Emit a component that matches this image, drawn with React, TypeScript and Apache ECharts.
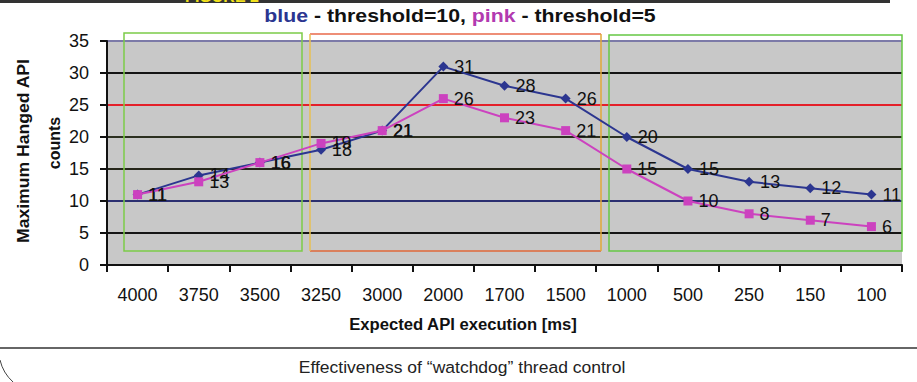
import React, { useEffect, useRef } from "react";
import * as echarts from "echarts";

// Expected API execution time buckets [ms]
const categories = ["4000", "3750", "3500", "3250", "3000", "2000", "1700", "1500", "1000", "500", "250", "150", "100"];
// Maximum hanged API counts, threshold = 10
const blueCounts = [11, 14, 16, 18, 21, 31, 28, 26, 20, 15, 13, 12, 11];
// Maximum hanged API counts, threshold = 5
const pinkCounts = [11, 13, 16, 19, 21, 26, 23, 21, 15, 10, 8, 7, 6];
// Y axis range
const yMin = 0;
const yMax = 35;
const yStep = 5;

const FONT = "'Liberation Sans', Arial, sans-serif";
const BLUE = "#2c3690";
const PINK = "#cc42bf";

export default function App() {
  const ref = useRef<HTMLDivElement>(null);

  useEffect(() => {
    if (!ref.current) return;
    const chart = echarts.init(ref.current, null, { renderer: "svg" });

    const labelStyle = {
      show: true,
      position: "right" as const,
      distance: 6,
      fontSize: 18,
      color: "#111",
      fontFamily: FONT,
    };

    chart.setOption({
      animation: false,
      backgroundColor: "#ffffff",
      grid: {
        left: 107,
        right: 15,
        top: 41,
        bottom: 117,
        show: true,
        backgroundColor: "#c8c8c8",
        borderWidth: 0,
      },
      xAxis: {
        type: "category",
        data: categories,
        boundaryGap: true,
        axisLine: { show: true, lineStyle: { color: "#111", width: 2 } },
        axisTick: { show: true, length: 7, inside: false, alignWithLabel: false, lineStyle: { color: "#111", width: 2 } },
        axisLabel: { color: "#111", fontSize: 18, fontFamily: FONT, margin: 21, interval: 0 },
        splitLine: { show: false },
      },
      yAxis: {
        type: "value",
        min: yMin,
        max: yMax,
        interval: yStep,
        axisLine: { show: true, lineStyle: { color: "#111", width: 2 } },
        axisTick: { show: true, length: 7, lineStyle: { color: "#111", width: 2 } },
        axisLabel: { color: "#111", fontSize: 18, fontFamily: FONT, margin: 18 },
        splitLine: {
          show: true,
          lineStyle: {
            width: 2,
            color: ["#111111", "#151515", "#2b2f70", "#25261a", "#2c3020", "#e4202a", "#141414", "#7c7aa8"],
          },
        },
      },
      series: [
        {
          name: "threshold=10",
          type: "line",
          data: blueCounts,
          symbol: "diamond",
          symbolSize: 10,
          lineStyle: { color: BLUE, width: 2 },
          itemStyle: { color: BLUE },
          label: labelStyle,
          z: 3,
        },
        {
          name: "threshold=5",
          type: "line",
          data: pinkCounts,
          symbol: "rect",
          symbolSize: 9,
          lineStyle: { color: PINK, width: 2 },
          itemStyle: { color: PINK },
          label: labelStyle,
          z: 4,
        },
      ],
      graphic: [
        { type: "rect", z: 1, shape: { x: 0, y: 0, width: 890, height: 3 }, style: { fill: "#333333" } },
        {
          type: "text",
          z: 2,
          x: 222,
          y: 4,
          style: { text: "FIGURE 2", fill: "#f2e21c", font: `bold 16px ${FONT}`, align: "center", verticalAlign: "bottom" },
        },
        {
          type: "text",
          z: 2,
          x: 460,
          y: 15,
          scaleX: 1.12,
          style: {
            text: "{b|blue} - threshold=10, {p|pink} - threshold=5",
            align: "center",
            verticalAlign: "middle",
            font: `bold 19px ${FONT}`,
            fill: "#111",
            rich: {
              b: { fill: "#2b3590", font: `bold 19px ${FONT}` },
              p: { fill: "#b23ab0", font: `bold 19px ${FONT}` },
            },
          },
        },
        // grouping boxes over the plot area
        { type: "rect", z: 1, shape: { x: 124, y: 33, width: 178, height: 218 }, style: { fill: "none", stroke: "#7ccb48", lineWidth: 1.5 } },
        { type: "line", z: 1, shape: { x1: 310, y1: 34, x2: 601, y2: 34 }, style: { stroke: "#e8694a", lineWidth: 1.5 } },
        { type: "line", z: 1, shape: { x1: 310, y1: 251, x2: 601, y2: 251 }, style: { stroke: "#e0683a", lineWidth: 1.5 } },
        { type: "line", z: 1, shape: { x1: 310, y1: 34, x2: 310, y2: 251 }, style: { stroke: "#e8c052", lineWidth: 1.5 } },
        { type: "line", z: 1, shape: { x1: 601, y1: 34, x2: 601, y2: 251 }, style: { stroke: "#e2a838", lineWidth: 1.5 } },
        { type: "rect", z: 1, shape: { x: 609, y: 35, width: 293, height: 216 }, style: { fill: "none", stroke: "#66c844", lineWidth: 1.5 } },
        // trims labels that run past the plot's right edge
        { type: "rect", z: 10, shape: { x: 903, y: 30, width: 14, height: 240 }, style: { fill: "#ffffff" } },
        {
          type: "text",
          z: 2,
          x: 24,
          y: 151,
          rotation: Math.PI / 2,
          scaleX: 1.1,
          style: { text: "Maximum Hanged API", font: `bold 16px ${FONT}`, fill: "#111", align: "center", verticalAlign: "middle" },
        },
        {
          type: "text",
          z: 2,
          x: 54,
          y: 143,
          rotation: Math.PI / 2,
          style: { text: "counts", font: `bold 16px ${FONT}`, fill: "#111", align: "center", verticalAlign: "middle" },
        },
        {
          type: "text",
          z: 2,
          x: 463,
          y: 324,
          scaleX: 1.04,
          style: { text: "Expected API execution [ms]", font: `bold 16px ${FONT}`, fill: "#111", align: "center", verticalAlign: "middle" },
        },
        { type: "line", z: 2, shape: { x1: 0, y1: 348, x2: 917, y2: 348 }, style: { stroke: "#333", lineWidth: 1.3 } },
        {
          type: "bezierCurve",
          z: 2,
          shape: { x1: 0, y1: 360, cpx1: 3, cpy1: 373, x2: 13, y2: 382 },
          style: { stroke: "#444", lineWidth: 1, fill: "none" },
        },
        {
          type: "text",
          z: 2,
          x: 462,
          y: 367,
          scaleX: 1.03,
          style: { text: "Effectiveness of \u201cwatchdog\u201d thread control", font: `17px ${FONT}`, fill: "#222", align: "center", verticalAlign: "middle" },
        },
      ],
    });

    return () => chart.dispose();
  }, []);

  return (
    <div
      ref={ref}
      style={{ position: "absolute", left: 0, top: 0, width: 917, height: 382 }}
    />
  );
}
